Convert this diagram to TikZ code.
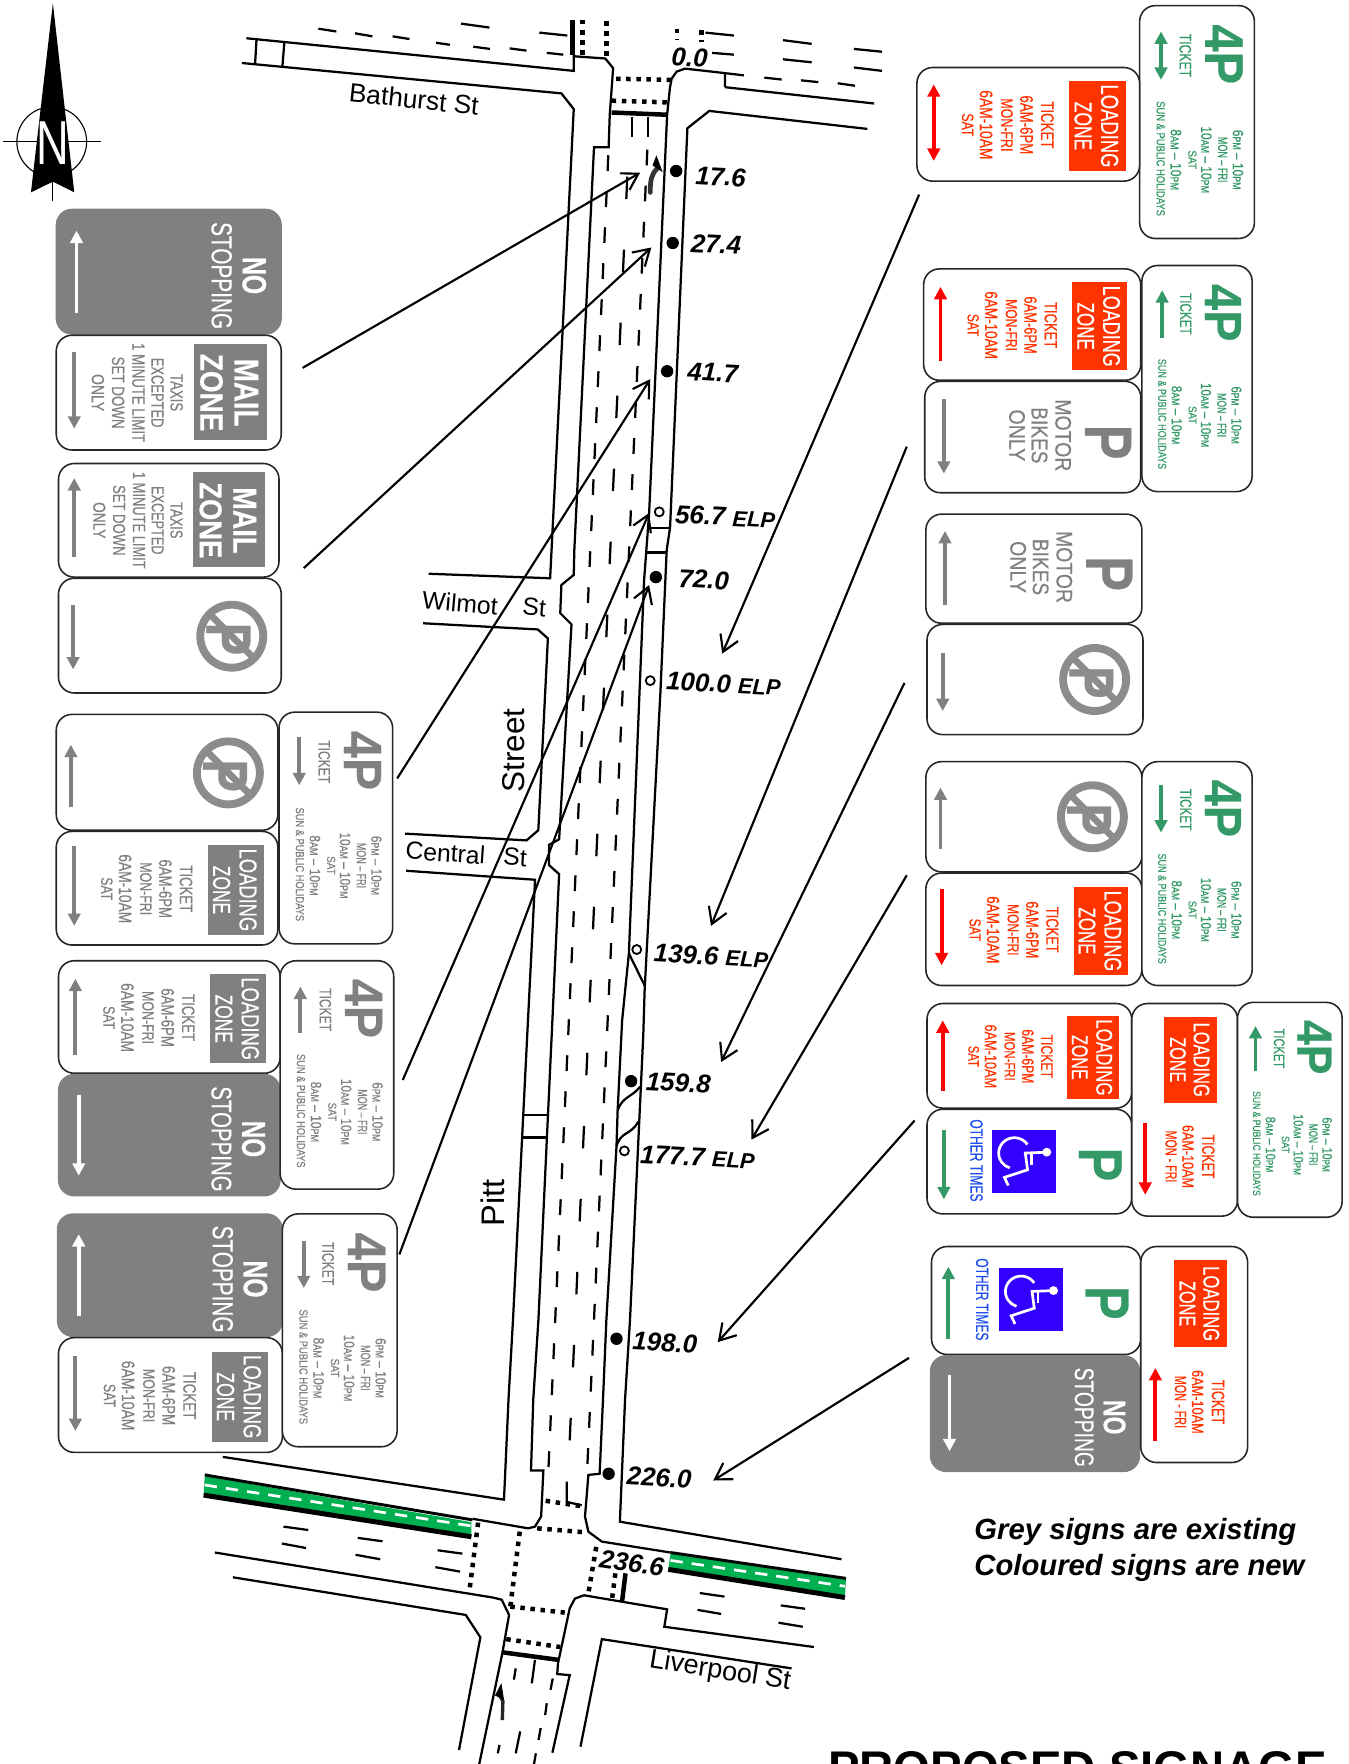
\documentclass[tikz,border=0pt]{standalone}
\usepackage{fontspec}
\usepackage{graphicx}
\setmainfont{Liberation Sans}
\newfontfamily\signf{Liberation Sans}[FakeBold=0.4]
\usetikzlibrary{arrows.meta}
\definecolor{sgrey}{HTML}{808080}
\definecolor{ored}{HTML}{FF3300}
\definecolor{pred}{HTML}{FF0000}
\definecolor{sgreen}{HTML}{339966}
\definecolor{wblue}{HTML}{3300FF}
\definecolor{tblue}{HTML}{1F4FEF}
\definecolor{band}{HTML}{00B050}
\definecolor{nopg}{HTML}{8C8C8C}
\newcounter{nn}
\tikzset{
  auton/.code={\stepcounter{nn}\tikzset{name=tx\arabic{nn}}},
  rt/.style={auton,rotate=-90,inner sep=0pt,outer sep=0pt,anchor=center},
  roadl/.style={line width=2pt,line join=miter},
  lane/.style={line width=2pt},
  stopl/.style={line width=4pt},
  dott/.style={line width=4pt,dash pattern=on 4pt off 5pt},
  leader/.style={line width=1.9pt,-{Straight Barb[length=14pt,width=17pt,line width=1.9pt]}},
  signedge/.style={line width=1.4pt,draw=black!85,rounded corners=14pt},
  sarrow/.style={line width=3.4pt},
  lab/.style={auton,font=\fontsize{23}{23}\selectfont\bfseries\itshape,inner sep=0pt,anchor=west,rotate=-3},
  rname/.style={auton,inner sep=0pt,font=\fontsize{22}{22}\selectfont}
}
\newcommand{\elp}{\fontsize{19.5}{19.5}\selectfont ELP}
\newcommand{\stx}[6]{\node[rt,text=#5] at (#1,#2) {\resizebox{\dimexpr #3pt*\fsn/1000\relax}{\dimexpr #4pt*\fsn/1000\relax}{\signf #6}};}
\newcommand{\sar}[5]{\draw[sarrow,draw=#1,#5] (#2,#3) -- (#2,#4);}
\def\tipone{-{Triangle[length=11pt,width=11pt]}}
\def\tiptwo{{Triangle[length=11pt,width=11pt]}-{Triangle[length=11pt,width=11pt]}}
\newcommand{\pmm}[1]{{\fontsize{7.5}{7.5}\selectfont #1}}
% Loading zone, 5 lines
\newcommand{\LZ}[6]{%
  \pgfmathtruncatemacro\fsn{(#3-#1)/193*1000}
  \draw[signedge,fill=white] (#1,#2) rectangle (#3,#4);
  \begin{scope}[shift={(#1,#2)},xscale={(#3-#1)/193},yscale={(#4-#2)/99}]
    \fill[#5] (132,12) rectangle (181,90);
    \stx{167}{51}{72}{15}{white}{LOADING}
    \stx{144}{51}{42}{15}{white}{ZONE}
    \stx{113}{50}{41}{11}{#6}{TICKET}
    \stx{95}{50}{51}{11}{#6}{6AM-6PM}
    \stx{78}{50}{46}{10}{#6}{MON-FRI}
    \stx{60}{50}{60}{11}{#6}{6AM-10AM}
    \stx{44}{50}{20}{10}{#6}{SAT}
  \end{scope}}
% Loading zone, short form
\newcommand{\LS}[4]{%
  \pgfmathtruncatemacro\fsn{(#3-#1)/94*1000}
  \draw[signedge,fill=white] (#1,#2) rectangle (#3,#4);
  \begin{scope}[shift={(#1,#2)},xscale={(#3-#1)/94},yscale={(#4-#2)/189}]
    \fill[ored] (29,12) rectangle (76,88);
    \stx{62}{50}{66}{14}{white}{LOADING}
    \stx{41}{50}{40}{14}{white}{ZONE}
    \stx{68}{136}{39}{11}{ored}{TICKET}
    \stx{50}{136}{56}{10}{ored}{6AM-10AM}
    \stx{35}{136}{46}{10}{ored}{MON - FRI}
  \end{scope}}
% 4P
\newcommand{\FP}[5]{%
  \pgfmathtruncatemacro\fsn{(#3-#1)/98*1000}
  \draw[signedge,fill=white] (#1,#2) rectangle (#3,#4);
  \begin{scope}[shift={(#1,#2)},xscale={(#3-#1)/98},yscale={(#4-#2)/201}]
    \stx{72}{42}{51}{32}{#5}{\bfseries 4P}
    \stx{39}{43}{37}{10}{#5}{TICKET}
    \stx{84}{133}{51}{9}{#5}{6\pmm{PM} – 10\pmm{PM}}
    \stx{71}{133}{39}{8}{#5}{MON – FRI}
    \stx{57}{133}{57}{9}{#5}{10\pmm{AM} – 10\pmm{PM}}
    \stx{45}{133}{16}{7}{#5}{SAT}
    \stx{31}{133}{52}{9}{#5}{8\pmm{AM} – 10\pmm{PM}}
    \stx{18}{132}{98}{7}{#5}{SUN \& PUBLIC HOLIDAYS}
  \end{scope}}
% No stopping
\newcommand{\NS}[4]{%
  \pgfmathtruncatemacro\fsn{(#3-#1)/200*1000}
  \draw[line width=1pt,draw=sgrey,fill=sgrey,rounded corners=14pt] (#1,#2) rectangle (#3,#4);
  \begin{scope}[shift={(#1,#2)},xscale={(#3-#1)/200},yscale={(#4-#2)/111}]
    \stx{176}{59}{33}{21}{white}{\bfseries NO}
    \stx{147}{59}{95}{18}{white}{STOPPING}
  \end{scope}}
% Mail zone
\newcommand{\MZ}[4]{%
  \pgfmathtruncatemacro\fsn{(#3-#1)/200*1000}
  \draw[signedge,fill=white] (#1,#2) rectangle (#3,#4);
  \begin{scope}[shift={(#1,#2)},xscale={(#3-#1)/200},yscale={(#4-#2)/102}]
    \fill[sgrey] (122,8) rectangle (187,93);
    \stx{169}{51}{60}{21}{white}{\bfseries MAIL}
    \stx{138}{51}{69}{20}{white}{\bfseries ZONE}
    \stx{107}{51}{33}{11}{sgrey}{TAXIS}
    \stx{90}{51}{62}{11}{sgrey}{EXCEPTED}
    \stx{73}{51}{88}{11}{sgrey}{1 MINUTE LIMIT}
    \stx{55}{51}{64}{11}{sgrey}{SET DOWN}
    \stx{37}{51}{33}{11}{sgrey}{ONLY}
  \end{scope}}
% Motor bikes
\newcommand{\MB}[4]{%
  \pgfmathtruncatemacro\fsn{(#3-#1)/192*1000}
  \draw[signedge,fill=white] (#1,#2) rectangle (#3,#4);
  \begin{scope}[shift={(#1,#2)},xscale={(#3-#1)/192},yscale={(#4-#2)/99}]
    \stx{163}{54}{31}{41}{sgrey}{\bfseries P}
    \stx{123}{48}{64}{14}{sgrey}{MOTOR}
    \stx{102}{48}{50}{14}{sgrey}{BIKES}
    \stx{82}{48}{46}{14}{sgrey}{ONLY}
  \end{scope}}
% No parking symbol
\newcommand{\NOP}[2]{%
  \def\fsn{1000}
  \draw[line width=7pt,draw=nopg] (#1,#2) circle (28);
  \stx{#1-3}{#2+2.5}{29}{39}{nopg}{\bfseries P}
  \draw[line width=6pt,draw=nopg] ({#1-21},{#2-21}) -- ({#1+20},{#2+20});}
\newcommand{\NPS}[6]{%
  \draw[signedge,fill=white] (#1,#2) rectangle (#3,#4);
  \NOP{#5}{#6}}
% Disabled parking
\newcommand{\DP}[9]{%
  \draw[signedge,fill=white] (#1,#2) rectangle (#3,#4);
  \def\fsn{1000}
  \stx{#5}{#6}{30}{38}{sgreen}{\bfseries P}
  \begin{scope}[shift={(#7,#8)},x=57pt,y=-56pt]
    \fill[wblue] (0,0) rectangle (1,1);
    \draw[white,line width=2.4pt] (.548,.238) arc[start angle=-34,end angle=-253,radius=.245];
    \fill[white] (.85,.36) circle (.07);
    \draw[white,line width=2.4pt,line join=miter] (.85,.36) -- (.515,.374) -- (.55,.64) -- (.19,.76) -- (.25,.89);
    \draw[white,line width=2.4pt] (.61,.35) -- (.61,.56);
  \end{scope}
  \stx{#9}{{(#2+#4)/2-1}}{73}{11}{tblue}{OTHER TIMES}}

\begin{document}
\begin{tikzpicture}[x=1pt,y=-1pt]
\useasboundingbox (0,0) rectangle (1199,1568);
\begin{scope}
\clip (0,0) rectangle (1199,1568);

% ---------- north point
\draw[line width=1pt] (46,126) circle (31);
\draw[line width=1pt] (3,126) -- (89.5,126);
\draw[line width=1pt] (47,161) -- (47,178.5);
\fill (47,3) -- (27.5,171) -- (47,161.5) -- (66,171) -- cycle;
\node[auton,inner sep=0pt,text=white] at (47,127) {\resizebox{29pt}{38pt}{N}};

% ---------- road: footpaths, kerbs
\draw[roadl] (215,56) -- (499,83) -- (510,97) -- (489,514) -- (381,510);
\draw[roadl] (376,554) -- (478,559.5) -- (487,567.5) -- (478.5,738) -- (468,747) -- (360,741);
\draw[roadl] (361,774) -- (475.6,782) -- (468,933) -- (456,1173) -- (452,1244) -- (448,1333) -- (198,1295);
\draw[roadl] (219,34) -- (400,52) -- (510,63) -- (510,50) -- (538,52) -- (545,60.5) -- (542,102) -- (541,131) -- (528,131)
  -- (510.5,489) -- (510,511) -- (499,520) -- (498,545) -- (508,555) -- (497,746) -- (488,751) -- (488,769) -- (497,777)
  -- (491,907) -- (478.6,1173) -- (474,1244) -- (472,1307) -- (483,1307) -- (481,1348) -- (475.5,1357) -- (469.5,1358.5) -- (420,1350);
\draw[roadl] (644.4,77.5) -- (644.4,65) -- (609,61) -- (601.5,63.6) -- (597,70) -- (595.5,78) -- (593,102) -- (577,456)
  -- (572.5,516) -- (559,847.5) -- (553,907) -- (549,987) -- (548,1019) -- (539,1173) -- (536,1244) -- (533,1310) -- (523,1311)
  -- (520,1348) -- (523,1361.5) -- (535,1370.3) -- (596,1380);
\draw[roadl] (644.4,77.5) -- (777,92);
\draw[roadl] (771,114.6) -- (630.5,98.6) -- (611,114) -- (595.6,469) -- (592.6,489) -- (587,616) -- (573,880) -- (571.8,920) -- (560,1173) -- (555.6,1244) -- (551,1352.6) -- (748,1386);
\draw[roadl] (559,847.5) -- (573,876);
\draw[roadl] (549,987) .. controls (553,975) and (562,975) .. (569,966);
\draw[roadl] (548,1019) .. controls (552,1005) and (560,1010) .. (567.4,997);
\draw[roadl] (577,469) -- (596,469) (575,491) -- (593,491);
\draw[roadl] (465,991) -- (487,991) (464.6,1011) -- (486,1011);
\draw[roadl] (228,35) -- (226.7,57.8) (252.7,38.4) -- (251,59.5);
% Liverpool south side
\draw[roadl] (191,1380) -- (438,1420) -- (446,1422) -- (452.5,1435.5) -- (446.5,1469.6) -- (426,1568);
\draw[roadl] (207,1402) -- (414,1435.5) -- (427,1455.4) -- (408,1555.5);
\draw[roadl] (519,1418) -- (511,1421) -- (506.4,1429.6) -- (496,1478.5) -- (495.3,1488) -- (506.4,1489) -- (491,1558);
\draw[roadl] (519,1418) -- (593,1430.5) -- (590.5,1446) -- (723.5,1464);
\draw[roadl] (703.6,1483) -- (535,1457) -- (516,1552.6);

% green bands
\fill[band] (182,1312) -- (419,1353) -- (419,1366) -- (181,1329) -- cycle;
\fill[band] (596,1381) -- (752,1403) -- (751,1420) -- (594,1395) -- cycle;
\draw[line width=2.6pt] (182,1311) -- (420,1351);
\draw[line width=4.4pt] (181,1329) -- (419,1366);
\draw[line width=2.6pt] (596,1380) -- (752,1403);
\draw[line width=4.4pt] (594,1395) -- (751,1420);
\draw[white,line width=2.4pt,dash pattern=on 11pt off 8pt] (182,1320) -- (419,1356.4);
\draw[white,line width=2.4pt,dash pattern=on 11pt off 8pt] (596,1387) -- (751,1410);

% lane dashes on Pitt St
\foreach \k in {0,...,36}{
  \pgfmathsetmacro\yy{138+32*\k}
  \pgfmathsetmacro\xa{540.7-.0456*(\yy-138)}
  \draw[lane] (\xa,\yy) -- ++(-.6,14);
  \pgfmathsetmacro\yb{133+32.06*\k}
  \pgfmathsetmacro\xb{575.4-.0456*(\yb-133)}
  \draw[lane] (\xb,\yb) -- ++(-.6,14);
}
\foreach \k in {0,...,17}{
  \pgfmathsetmacro\yc{157+64.9*\k}
  \pgfmathsetmacro\xc{557.6-.0456*(\yc-157)}
  \draw[lane] (\xc,\yc) -- ++(-.9,20);
}
\draw[lane] (561.5,104) -- (561.5,122) (576,104) -- (576,122);
\draw[lane] (503.7,1317) -- (503.7,1335) -- (517,1338);
% lane dashes south of Liverpool
\draw[lane] (458.4,1483) -- (456.8,1493) (475.5,1475.5) -- (472.7,1496.3) (491.3,1492) -- (489.4,1502)
  (486,1514) -- (484.6,1524.4) (480.6,1536) -- (478.7,1546.6) (476.3,1558.5) -- (474.7,1568)
  (462.4,1539) -- (458.4,1558.5) (444,1551) -- (442.5,1558.5);
% turn arrows
\draw[line width=4.2pt,black!80,line cap=round] (578,171) .. controls (578,160) and (579,155) .. (584,150);
\fill (580,147) -- (583.5,138) -- (589,153) -- cycle;
\draw[line width=3pt,black!85] (446.5,1529) -- (447,1512) -- (443,1505);
\fill (440,1507) -- (445.7,1496) -- (448,1511) -- cycle;

% stop lines, crossings
\draw[stopl] (543.7,100) -- (593,102);
\draw[dott] (547.6,70) -- (597,71);
\draw[dott] (543.7,89.5) -- (593,91);
\draw[stopl] (508.7,17.7) -- (508.7,49);
\draw[dott] (517.6,17.7) -- (517.6,49);
\draw[dott] (539,18.7) -- (539,50);
\draw[dott] (601.8,25.5) -- (601.8,35.7);
\draw[dott] (623.7,27) -- (623.7,37.4);
\draw[dott] (425,1353.4) -- (417,1416);
\draw[dott] (462,1361.4) -- (453.6,1428);
\draw[dott] (477.5,1358.5) -- (520,1362);
\draw[dott] (485,1334) -- (518,1339);
\draw[dott] (453.6,1428) -- (502,1433.4);
\draw[dott] (450,1457) -- (498,1464);
\draw[stopl] (446.5,1468.7) -- (497,1475.5);
\draw[dott] (530,1375) -- (523,1416);
\draw[dott] (547,1398.5) -- (544,1421.6);
\draw[stopl] (556,1398.5) -- (553,1423);

% cross-street lane marks
\foreach \a/\b/\c/\d in {
  283/25.5/299/28, 315.5/29.6/331/32.3, 349/32.3/364/34.7, 387.5/38/400/39.8, 420.7/41.5/435.6/43.5,
  453/43/468/45, 486/47/500.7/48.6, 409.8/21/435/24.5, 479.4/29/504.3/31.6,
  627/29/652.4/31.6, 633/47/652.4/48.6, 696/35.7/721.5/39, 696/52.7/721.5/55.4,
  759/43.5/784/46, 759/60/784/63, 644.4/65/661.3/67, 679.4/69/694.8/70.7, 712/71.4/727.4/73, 744.6/74/760/76.2,
  252/1357/274/1360, 250.5/1372/272/1376, 318/1367/340/1370, 316/1382/338/1386, 389/1378/411/1381, 387/1393/409/1397,
  622/1416/644/1419.2, 620/1431/641/1434.6, 694/1427/715.6/1430, 692/1442.4/713.6/1446}
  {\draw[lane] (\a,\b) -- (\c,\d);}

% ---------- street names
\node[rname,rotate=-6,font=\fontsize{23.4}{23.4}\selectfont] at (368,88) {Bathurst St};
\node[rname,rotate=-5] at (409,536) {Wilmot};
\node[rname,rotate=-5] at (475,540) {St};
\node[rname,rotate=-4] at (396,758) {Central};
\node[rname,rotate=-4] at (458,762) {St};
\node[rname,rotate=90,font=\fontsize{28}{28}\selectfont] at (457,667) {Street};
\node[rname,rotate=90,font=\fontsize{29}{29}\selectfont] at (438,1069) {Pitt};
\node[rname,rotate=-9,font=\fontsize{24}{24}\selectfont] at (640,1486) {Liverpool St};

% ---------- sign positions on the kerb
\foreach \x/\y in {601/152,598/216,593/330,583/513,561/961,548/1190,541/1310}{\fill (\x,\y) circle (5.5);}
\foreach \x/\y in {586/455,578/605,566/844,555/1023}{\draw[line width=1.6pt,fill=white] (\x,\y) circle (4);}

\node[lab,anchor=center,rotate=0] at (613,51) {0.0};
\node[lab] at (618,156) {17.6};
\node[lab] at (614,216) {27.4};
\node[lab] at (611,330) {41.7};
\node[lab] at (600,457) {56.7 {\elp}};
\node[lab] at (603,514) {72.0};
\node[lab] at (592,605) {100.0 {\elp}};
\node[lab] at (581,847) {139.6 {\elp}};
\node[lab] at (574,961) {159.8};
\node[lab] at (569,1026) {177.7 {\elp}};
\node[lab] at (562,1192) {198.0};
\node[lab] at (557,1312) {226.0};
\node[lab,fill=white,rotate=-5,inner sep=1pt] at (532,1385) {236.6};

% ---------- leaders
\coordinate (la1) at (269,327); \coordinate (lt1) at (569,153.5);
\coordinate (la2) at (270,505); \coordinate (lt2) at (579,220);
\coordinate (la3) at (353,692); \coordinate (lt3) at (578,337);
\coordinate (la4) at (358,960); \coordinate (lt4) at (577,456);
\coordinate (la5) at (355,1115); \coordinate (lt5) at (577,520);
\coordinate (ra1) at (817,173); \coordinate (rt1) at (642,581);
\coordinate (ra2) at (806,397); \coordinate (rt2) at (632,823);
\coordinate (ra3) at (804,607); \coordinate (rt3) at (641,944);
\coordinate (ra4) at (806,778); \coordinate (rt4) at (668,1013);
\coordinate (ra5) at (813,996); \coordinate (rt5) at (638,1193);
\coordinate (ra6) at (808,1207); \coordinate (rt6) at (634,1316);
\foreach \i in {1,...,5}{\draw[leader] (la\i) -- (lt\i);}
\foreach \i in {1,...,6}{\draw[leader] (ra\i) -- (rt\i);}

% ---------- signs, left side
\NS{50}{186}{250}{297}
\sar{white}{68}{278}{205}{\tipone}
\MZ{50}{298}{250}{400}
\sar{sgrey}{66}{313}{381}{\tipone}
\MZ{52}{412}{248}{513}
\sar{sgrey}{66}{495}{425}{\tipone}
\NPS{52}{514}{250}{616}{206}{565.5}
\sar{sgrey}{65}{538}{595}{\tipone}
\NPS{50}{635}{247}{738}{203}{687}
\sar{sgrey}{63}{717}{662}{\tipone}
\LZ{50}{739}{247}{840}{sgrey}{sgrey}
\sar{sgrey}{66}{752}{823}{\tipone}
\FP{248}{633}{349}{839}{sgrey}
\sar{sgrey}{266}{655}{698}{\tipone}
\LZ{52}{854}{249}{954}{sgrey}{sgrey}
\sar{sgrey}{67}{938}{870}{\tipone}
\NS{52}{955}{249}{1063}
\sar{white}{70}{973}{1045}{\tipone}
\FP{249}{854}{350}{1057}{sgrey}
\sar{sgrey}{267}{918}{877}{\tipone}
\NS{51}{1079}{251}{1188}
\sar{white}{70}{1170}{1097}{\tipone}
\LZ{52}{1189}{251}{1291}{sgrey}{sgrey}
\sar{sgrey}{67}{1205}{1272}{\tipone}
\FP{251}{1079}{353}{1286}{sgrey}
\sar{sgrey}{270}{1103}{1145}{\tipone}

% ---------- signs, right side
\FP{1013}{5}{1115}{212}{sgreen}
\sar{sgreen}{1032}{28}{71}{\tiptwo}
\LZ{815}{60}{1013}{161}{ored}{ored}
\sar{pred}{830}{75}{143}{\tiptwo}
\FP{1015}{236}{1113}{437}{sgreen}
\sar{sgreen}{1033}{300}{258}{\tipone}
\LZ{821}{239}{1014}{338}{ored}{ored}
\sar{pred}{836}{321}{255}{\tipone}
\MB{822}{339}{1014}{438}
\sar{sgrey}{839}{355}{421}{\tipone}
\MB{823}{457}{1015}{554}
\sar{sgrey}{840}{538}{472}{\tipone}
\NPS{824}{555}{1016}{653}{973}{604}
\sar{sgrey}{838}{580}{632}{\tipone}
\NPS{823}{677}{1015}{775}{971}{726}
\sar{sgrey}{836}{755}{700}{\tipone}
\LZ{823}{776}{1015}{876}{ored}{ored}
\sar{pred}{837}{790}{858}{\tipone}
\FP{1015}{677}{1113}{876}{sgreen}
\sar{sgreen}{1032}{698}{740}{\tipone}
\LZ{824}{892}{1006}{985}{ored}{ored}
\sar{pred}{838}{970}{907}{\tipone}
\DP{824}{986}{1006}{1079}{978}{1035}{882}{1004}{868}
\sar{sgreen}{839}{1004}{1066}{\tipone}
\LS{1006}{892}{1100}{1081}
\sar{pred}{1018}{998}{1062}{\tipone}
\FP{1100}{891}{1193}{1082}{sgreen}
\sar{sgreen}{1116}{952}{912}{\tipone}
\DP{828}{1108}{1014}{1204}{984}{1158}{888}{1127}{873}
\sar{sgreen}{843}{1190}{1126}{\tipone}
\NS{827}{1205}{1013}{1308}
\sar{white}{844}{1222}{1290}{\tipone}
\LS{1014}{1108}{1109}{1300}
\sar{pred}{1027}{1281}{1216}{\tipone}

% ---------- notes
\node[auton,anchor=west,inner sep=0pt,font=\fontsize{26}{26}\selectfont\bfseries\itshape] at (866,1362) {Grey signs are existing};
\node[auton,anchor=west,inner sep=0pt,font=\fontsize{26}{26}\selectfont\bfseries\itshape] at (866,1394) {Coloured signs are new};
\node[auton,anchor=base west,inner sep=0pt,font=\fontsize{42}{42}\selectfont\bfseries] at (736,1586) {PROPOSED SIGNAGE};
\end{scope}
\end{tikzpicture}
\end{document}
